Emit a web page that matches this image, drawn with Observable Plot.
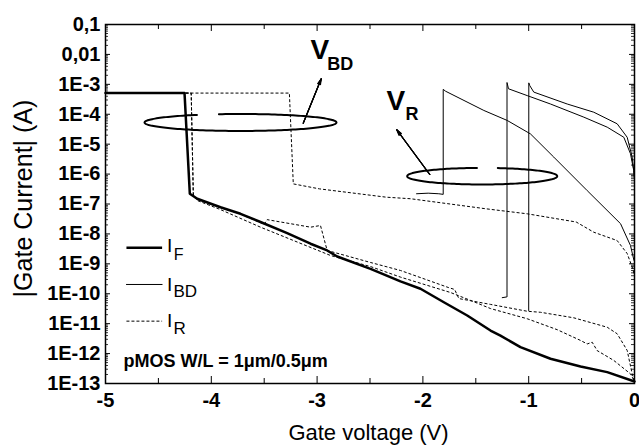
<!DOCTYPE html>
<html><head><meta charset="utf-8">
<script src="https://cdn.jsdelivr.net/npm/d3@7"></script>
<script src="https://cdn.jsdelivr.net/npm/@observablehq/plot@0.6"></script>
<style>html,body{margin:0;padding:0;background:#fff;}</style>
</head><body><div id="chart"></div>
<script>
// ---- Data (gate voltage in V, |gate current| in A) ----
const ifV = [-5, -4.253, -4.203, -4.133, -3.913, -3.724, -3.535, -3.283, -3.062, -2.905, -2.81, -2.495, -2.212, -2.023, -1.802, -1.581, -1.361, -1.267, -1.078, -0.794, -0.51, -0.258, 0];
const ifI = [5.1e-4, 5.1e-4, 2.2e-7, 1.5e-7, 7.8e-8, 4.7e-8, 2.5e-8, 1.06e-8, 4.7e-9, 2.8e-9, 1.76e-9, 6.8e-10, 2.6e-10, 1.47e-10, 5.2e-11, 1.88e-11, 5.9e-12, 4.0e-12, 1.64e-12, 6.7e-13, 3.7e-13, 2.4e-13, 1.17e-13];

const r1V = [-5, -3.262, -3.225, -2.977, -2.347, -2.117, -1.402, -1.014, -0.551, -0.385, -0.164, -0.069, -0.022, 0];
const r1I = [5.1e-4, 5.1e-4, 4.7e-7, 3.2e-7, 1.69e-7, 1.5e-7, 6.9e-8, 4.7e-8, 2.5e-8, 1.14e-8, 6.0e-9, 2.2e-9, 7.8e-10, 4.1e-10];

const r2V = [-5, -4.19, -4.17, -4.133, -3.913, -3.535, -2.873, -2.495, -2.212, -1.739, -1.55, -1.361, -1.014, -0.731, -0.51, -0.447, -0.4, -0.353, -0.196, -0.038, 0];
const r2I = [5.1e-4, 5.1e-4, 2.0e-7, 1.31e-7, 6.5e-8, 1.68e-8, 1.9e-9, 8.1e-10, 3.6e-10, 1.1e-10, 6.0e-11, 3.2e-11, 1.46e-11, 6.3e-12, 2.75e-12, 2.1e-12, 2.4e-12, 1.26e-12, 5.9e-13, 2.1e-13, 1.17e-13];

const r3V = [-5, -4.19, -4.17, -4.133, -3.913, -3.724, -3.5, -3.472, -3.062, -2.968, -2.905, -2.495, -2.212, -1.76, -1.7, -1.66, -1.36, -1.014, -0.888, -0.574, -0.258, -0.164, -0.069, -0.022, 0];
const r3I = [5.1e-4, 5.1e-4, 2.0e-7, 1.41e-7, 7.6e-8, 4.6e-8, 2.1e-8, 3.0e-8, 1.68e-8, 1.91e-8, 2.8e-9, 1.11e-9, 6.0e-10, 1.62e-10, 1.39e-10, 6.9e-11, 4.4e-11, 2.6e-11, 2.4e-11, 1.57e-11, 7.6e-12, 4.6e-12, 1.27e-12, 2.1e-13, 1.17e-13];

const bd1V = [-2.06, -1.95, -1.85, -1.808, -1.808, -1.786, -1.424, -1.203, -0.983, -0.763, -0.447, -0.132, -0.038, -0.005];
const bd1I = [2.2e-7, 2.3e-7, 2.2e-7, 2.1e-7, 6.8e-4, 5.9e-4, 1.34e-4, 6.2e-5, 2.2e-5, 3.7e-6, 2.8e-7, 2.2e-8, 4.1e-9, 1.3e-9];

const bd2V = [-1.25, -1.21, -1.205, -1.205, -1.191, -1.014, -0.794, -0.479, -0.258, -0.101, -0.038, -0.007, 0];
const bd2I = [7.4e-11, 7.8e-11, 7.8e-11, 1.15e-3, 7.1e-4, 4.2e-4, 2.2e-4, 8.0e-5, 3.7e-5, 1.7e-5, 4.8e-6, 1.3e-6, 7.1e-7];

const bd3V = [-1.0, -0.999, -0.99, -0.952, -0.636, -0.385, -0.164, -0.069, -0.022, -0.007, 0];
const bd3I = [2.75e-11, 1.12e-3, 9.1e-4, 5.5e-4, 2.2e-4, 1.17e-4, 4.8e-5, 1.7e-5, 3.7e-6, 1.3e-6, 7.1e-7];

const xTickValues = [-5, -4, -3, -2, -1, 0];
const xTickLabels = ["-5", "-4", "-3", "-2", "-1", "0"];
const yTickValues = [1e-1, 1e-2, 1e-3, 1e-4, 1e-5, 1e-6, 1e-7, 1e-8, 1e-9, 1e-10, 1e-11, 1e-12, 1e-13];
const yTickLabels = ["0,1", "0,01", "1E-3", "1E-4", "1E-5", "1E-6", "1E-7", "1E-8", "1E-9", "1E-10", "1E-11", "1E-12", "1E-13"];

const legendNames = ["F", "BD", "R"];

// ---- helpers ----
const FONT = "'Liberation Sans', Arial, Helvetica, sans-serif";
const series = (V, I) => V.map((v, i) => ({x: v, y: I[i]}));
function ellipse(cx, cyLog, rx, ryLog, fromDeg, toDeg) {
  const pts = [];
  for (let a = fromDeg; a <= toDeg + 1e-9; a += 2) {
    const t = a * Math.PI / 180;
    pts.push({x: cx + rx * Math.cos(t), y: Math.pow(10, cyLog + ryLog * Math.sin(t))});
  }
  return pts;
}
const minorX = d3.range(-4.5, 0, 1);
const minorY = [];
for (let e = -13; e <= -2; e++) for (let k = 2; k <= 9; k++) minorY.push(k * Math.pow(10, e));

const label = (str, V, logI, opts) => Plot.text([str], {
  x: V, y: Math.pow(10, logI), text: d => d, textAnchor: "start", lineAnchor: "middle",
  fontFamily: FONT, fill: "black", ...opts
});
const arrow = (x1, l1, x2, l2) => [6, 14, 22, 30].map(a => Plot.arrow([0], {
  x1, y1: Math.pow(10, l1), x2, y2: Math.pow(10, l2),
  stroke: "black", strokeWidth: 1.1, headLength: 8, headAngle: a
}));

const FW = 529, FH = 359;
const dashed = {x: "x", y: "y", stroke: "black", strokeWidth: 1, strokeDasharray: "3,2", strokeLinecap: "butt"};
const thin = {x: "x", y: "y", stroke: "black", strokeWidth: 1};

const chart = Plot.plot({
  width: 639, height: 448,
  marginLeft: 105, marginRight: 5, marginTop: 24, marginBottom: 65,
  style: {fontFamily: FONT, background: "white", color: "black"},
  x: {domain: [-5, 0]},
  y: {type: "log", domain: [1e-13, 0.1]},
  marks: [
    Plot.line(series(r1V, r1I), dashed),
    Plot.line(series(r2V, r2I), dashed),
    Plot.line(series(r3V, r3I), dashed),
    Plot.line(series(bd1V, bd1I), thin),
    Plot.line(series(bd2V, bd2I), thin),
    Plot.line(series(bd3V, bd3I), thin),
    Plot.line(series(ifV, ifI), {x: "x", y: "y", stroke: "black", strokeWidth: 2.5}),
    // annotations: ellipses and arrows
    Plot.line(ellipse(-3.724, -4.275, 0.907, 0.284, 117, 463), {x: "x", y: "y", stroke: "black", strokeWidth: 2}),
    Plot.line(ellipse(-1.4395, -6.07, 0.709, 0.277, 94, 438), {x: "x", y: "y", stroke: "black", strokeWidth: 2}),
    ...arrow(-3.131, -4.299, -2.961, -2.815),
    ...arrow(-1.935, -6.013, -2.247, -4.519),
    label("V", -3.062, -1.869, {fontSize: 28, fontWeight: "bold"}),
    label("BD", -2.905, -2.337, {fontSize: 18, fontWeight: "bold"}),
    label("V", -2.345, -3.567, {fontSize: 28, fontWeight: "bold"}),
    label("R", -2.165, -3.985, {fontSize: 18, fontWeight: "bold"}),
    label("pMOS W/L = 1\u03bcm/0.5\u03bcm", -4.83, -12.263, {fontSize: 18, fontWeight: "bold"}),
    // legend
    Plot.line([{x: -4.802, y: Math.pow(10, -8.463)}, {x: -4.465, y: Math.pow(10, -8.463)}], {x: "x", y: "y", stroke: "black", strokeWidth: 2.5, strokeLinecap: "butt"}),
    Plot.line([{x: -4.802, y: Math.pow(10, -9.69)}, {x: -4.465, y: Math.pow(10, -9.69)}], thin),
    Plot.line([{x: -4.802, y: Math.pow(10, -10.916)}, {x: -4.465, y: Math.pow(10, -10.916)}], dashed),
    label("I", -4.418, -8.41, {fontSize: 19}),
    label(legendNames[0], -4.356, -8.687, {fontSize: 16}),
    label("I", -4.418, -9.69, {fontSize: 19}),
    label(legendNames[1], -4.357, -9.93, {fontSize: 17}),
    label("I", -4.418, -10.916, {fontSize: 19}),
    label(legendNames[2], -4.357, -11.154, {fontSize: 17}),
    // inward ticks
    Plot.ruleX(xTickValues, {x: d => d, insetTop: FH - 7, stroke: "black", strokeWidth: 1}),
    Plot.ruleX(xTickValues, {x: d => d, insetBottom: FH - 7, stroke: "black", strokeWidth: 1}),
    Plot.ruleX(minorX, {x: d => d, insetTop: FH - 5, stroke: "black", strokeWidth: 1}),
    Plot.ruleX(minorX, {x: d => d, insetBottom: FH - 5, stroke: "black", strokeWidth: 1}),
    Plot.ruleY(yTickValues, {y: d => d, insetRight: FW - 5, stroke: "black", strokeWidth: 1}),
    Plot.ruleY(yTickValues, {y: d => d, insetLeft: FW - 5, stroke: "black", strokeWidth: 1}),
    Plot.ruleY(minorY, {y: d => d, insetRight: FW - 3, stroke: "black", strokeWidth: 0.8}),
    Plot.ruleY(minorY, {y: d => d, insetLeft: FW - 3, stroke: "black", strokeWidth: 0.8}),
    Plot.frame({stroke: "black", strokeWidth: 1.5}),
    Plot.axisX(xTickValues, {tickSize: 0, tickPadding: 9, tickFormat: d => xTickLabels[xTickValues.indexOf(d)], fontSize: 20, fontWeight: "bold", label: null}),
    Plot.axisY(yTickValues, {tickSize: 0, tickPadding: 5, tickFormat: d => yTickLabels[yTickValues.indexOf(d)], fontSize: 20, fontWeight: "bold", label: null}),
    Plot.text(["|Gate Current| (A)"], {frameAnchor: "left", dx: -82, dy: -5.5, rotate: -90, text: d => d, fontSize: 25, fontFamily: FONT, textAnchor: "middle", lineAnchor: "middle", fill: "black"}),
    Plot.text(["Gate voltage (V)"], {frameAnchor: "bottom", dx: -1.5, dy: 49, text: d => d, fontSize: 22, fontFamily: FONT, textAnchor: "middle", lineAnchor: "middle", fill: "black"})
  ]
});
document.getElementById("chart").appendChild(chart);
</script>
</body></html>
